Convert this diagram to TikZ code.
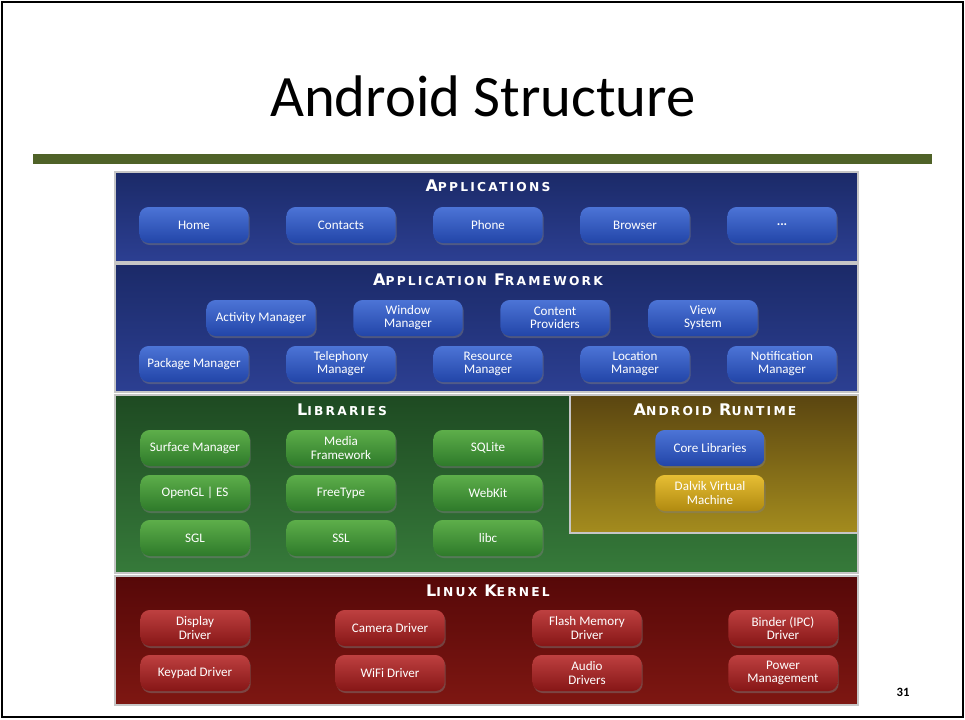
\documentclass[tikz,border=0pt]{standalone}
\usepackage{fontspec}
\setmainfont{Carlito}
\newfontfamily\capfont[LetterSpace=18]{DejaVu Sans}
\usetikzlibrary{shadows}
\definecolor{appTop}{HTML}{1B2A68}
\definecolor{appBot}{HTML}{2C3F92}
\definecolor{libTop}{HTML}{1E4A22}
\definecolor{libBot}{HTML}{367A3A}
\definecolor{rtTop}{HTML}{5A4510}
\definecolor{rtBot}{HTML}{A48C1E}
\definecolor{kTop}{HTML}{560808}
\definecolor{kBot}{HTML}{7E1712}
\definecolor{bTop}{HTML}{4C74D6}
\definecolor{bBot}{HTML}{2245A8}
\definecolor{gTop}{HTML}{5DAE4A}
\definecolor{gBot}{HTML}{2E7A2A}
\definecolor{rTop}{HTML}{BE4040}
\definecolor{rBot}{HTML}{861616}
\definecolor{yTop}{HTML}{E6BE34}
\definecolor{yBot}{HTML}{B08A10}
\definecolor{barGreen}{HTML}{4F6228}
\newcommand{\sct}[2]{{\fontsize{12}{12}\selectfont #1}{\fontsize{9.2}{10}\selectfont #2}}
\begin{document}
\begin{tikzpicture}[x=0.75pt,y=-0.75pt,
  panel/.style={draw=gray!45, line width=0.8pt},
  ptitle/.style={text=white, font=\capfont\bfseries, inner sep=0pt},
  btn/.style={rounded corners=7pt, minimum width=82pt, minimum height=27pt,
    text=white, align=center, font=\fontsize{9.8}{9.8}\selectfont, inner sep=1pt,
    drop shadow={opacity=0.45, shadow xshift=0.8pt, shadow yshift=-1.5pt}},
  bbtn/.style={btn, top color=bTop, bottom color=bBot},
  gbtn/.style={btn, top color=gTop, bottom color=gBot},
  rbtn/.style={btn, top color=rTop, bottom color=rBot},
  ybtn/.style={btn, top color=yTop, bottom color=yBot}]
\useasboundingbox (0,0) rectangle (965,719);
\fill[white] (0,0) rectangle (965,719);
\draw[line width=1.5pt] (2,2) rectangle (963,717);
\node (title) at (483,96) {\fontsize{44}{48}\selectfont Android Structure};
\fill[barGreen] (33,154) rectangle (932,164);
% panels
\path[panel, top color=appTop, bottom color=appBot] (115,172) rectangle (858,262);
\path[panel, top color=appTop, bottom color=appBot] (115,264) rectangle (858,392);
\path[panel, top color=libTop, bottom color=libBot] (115,395) rectangle (858,573);
\path[panel, top color=rtTop, bottom color=rtBot] (570,395) rectangle (858,533);
\path[panel, top color=kTop, bottom color=kBot] (115,576) rectangle (858,705);
% titles
\node[ptitle] (tApp) at (488,186) {\sct{A}{PPLICATIONS}};
\node[ptitle] (tFw) at (488,280) {\sct{A}{PPLICATION} \sct{F}{RAMEWORK}};
\node[ptitle] (tLib) at (342,410) {\sct{L}{IBRARIES}};
\node[ptitle] (tRt) at (715,410) {\sct{A}{NDROID} \sct{R}{UNTIME}};
\node[ptitle] (tK) at (488,591) {\sct{L}{INUX} \sct{K}{ERNEL}};
% applications
\node[bbtn] (home) at (194,225) {Home};
\node[bbtn] (contacts) at (341,225) {Contacts};
\node[bbtn] (phone) at (488,225) {Phone};
\node[bbtn] (browser) at (635,225) {Browser};
\node[bbtn] (more) at (782,225) {\textbf{...}};
% framework
\node[bbtn] (act) at (261,318) {Activity Manager};
\node[bbtn] (win) at (408,318) {Window\\Manager};
\node[bbtn] (cont) at (555,318) {Content\\Providers};
\node[bbtn] (view) at (703,318) {View\\System};
\node[bbtn] (pkg) at (194,364) {Package Manager};
\node[bbtn] (tel) at (341,364) {Telephony\\Manager};
\node[bbtn] (res) at (488,364) {Resource\\Manager};
\node[bbtn] (loc) at (635,364) {Location\\Manager};
\node[bbtn] (noti) at (782,364) {Notification\\Manager};
% libraries
\node[gbtn] (surf) at (195,448) {Surface Manager};
\node[gbtn] (media) at (341,448) {Media\\Framework};
\node[gbtn] (sql) at (488,448) {SQLite};
\node[gbtn] (gl) at (195,493) {OpenGL | ES};
\node[gbtn] (ft) at (341,493) {FreeType};
\node[gbtn] (web) at (488,493) {WebKit};
\node[gbtn] (sgl) at (195,538) {SGL};
\node[gbtn] (ssl) at (341,538) {SSL};
\node[gbtn] (libc) at (488,538) {libc};
% runtime
\node[bbtn] (core) at (710,448) {Core Libraries};
\node[ybtn] (dalvik) at (710,493) {Dalvik Virtual\\Machine};
% kernel
\node[rbtn] (disp) at (195,628) {Display\\Driver};
\node[rbtn] (cam) at (390,628) {Camera Driver};
\node[rbtn] (flash) at (587,628) {Flash Memory\\Driver};
\node[rbtn] (bind) at (783,628) {Binder (IPC)\\Driver};
\node[rbtn] (key) at (195,673) {Keypad Driver};
\node[rbtn] (wifi) at (390,673) {WiFi Driver};
\node[rbtn] (audio) at (587,673) {Audio\\Drivers};
\node[rbtn] (power) at (783,673) {Power\\Management};
\node (page) at (903,692) {\fontsize{9.5}{10}\selectfont\bfseries 31};
\end{tikzpicture}
\end{document}
